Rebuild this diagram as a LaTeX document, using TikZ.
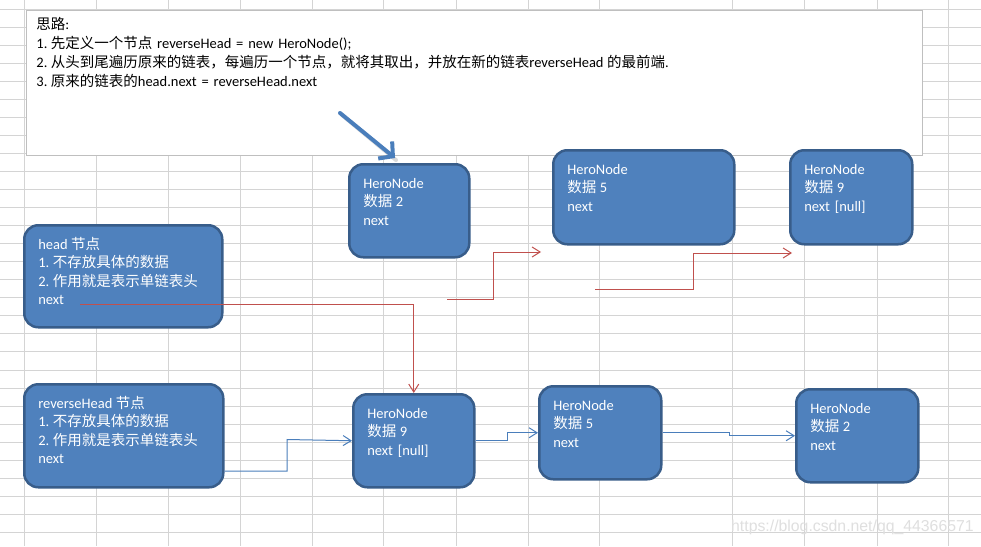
\documentclass[tikz,border=0pt]{standalone}
\usepackage{fontspec}
\setmainfont{Carlito}
\newfontfamily\cjk{Noto Sans CJK SC}
\newfontfamily\wmfont{Liberation Sans}
\usepackage{xcolor}
\usetikzlibrary{arrows.meta, calc}

\definecolor{boxfill}{HTML}{4F81BD}
\definecolor{boxline}{HTML}{385D8A}
\definecolor{linkred}{HTML}{C0504D}
\definecolor{linkblue}{HTML}{4A7EBB}
\definecolor{sheetgrid}{HTML}{D4D4D4}
\definecolor{noteline}{HTML}{BFBFBF}

% narrow gap between latin and chinese text
\newcommand\cjgap{\hspace{3.5pt}}

\tikzset{
  nodebox/.style 2 args={draw=boxline, fill=boxfill, line width=2.5, rounded corners=14,
    text=white, font=\fontsize{14.5}{18.5}\selectfont, align=left, anchor=north west,
    inner xsep=14, inner ysep=13, text height=11pt, text width=#1, text depth=#2},
  redlink/.style={draw=linkred, line width=1, -{Straight Barb[length=8pt,width=10pt]}},
  bluelink/.style={draw=linkblue, line width=1, -{Straight Barb[length=8pt,width=10pt]}},
}

\begin{document}
\begin{tikzpicture}[x=1pt, y=-1pt]
    \path[use as bounding box, fill=white] (0,0) rectangle (981,546);
    % sheet grid behind everything
    \foreach \gx in {24,96,168,240,312,383,456,528,599,732,804,877,948}
        \draw[sheetgrid, line width=1] (\gx,0) -- (\gx,546);
    \foreach \k in {0,...,29}
        \draw[sheetgrid, line width=1] (0,9+18.05*\k) -- (981,9+18.05*\k);
    % idea note
    \node[draw=noteline, fill=white, line width=0.8, anchor=north west, align=left,
        inner xsep=10, inner ysep=8, text width=876pt, text height=11pt, text depth=118pt,
        font=\fontsize{14.5}{19}\selectfont] (idea) at (26,10)
        {{\cjk 思路}:\\
         1.\cjgap{\cjk 先定义一个节点} reverseHead = new HeroNode();\\
         2.\cjgap{\cjk 从头到尾遍历原来的链表，每遍历一个节点，就将其取出，并放在新的链表}reverseHead\cjgap{\cjk 的最前端}.\\
         3.\cjgap{\cjk 原来的链表的}head.next = reverseHead.next};
    % old list
    \node[nodebox={170pt}{65pt}] (head) at (23,224)
        {head\cjgap{\cjk 节点}\\1.\cjgap{\cjk 不存放具体的数据}\\2.\cjgap{\cjk 作用就是表示单链表头}\\next};
    \node[nodebox={92pt}{56pt}] (old2) at (348,163) {HeroNode\\{\cjk 数据}\cjgap 2\\next};
    \node[nodebox={153pt}{57pt}] (old5) at (552,149) {HeroNode\\{\cjk 数据}\cjgap 5\\next};
    \node[nodebox={94pt}{57pt}] (old9) at (789,149) {HeroNode\\{\cjk 数据}\cjgap 9\\next [null]};
    % reversed list
    \node[nodebox={171pt}{66pt}] (rev) at (23,383)
        {reverseHead\cjgap{\cjk 节点}\\1.\cjgap{\cjk 不存放具体的数据}\\2.\cjgap{\cjk 作用就是表示单链表头}\\next};
    \node[nodebox={93pt}{56pt}] (new9) at (352,393) {HeroNode\\{\cjk 数据}\cjgap 9\\next [null]};
    \node[nodebox={94pt}{56pt}] (new5) at (538,385) {HeroNode\\{\cjk 数据}\cjgap 5\\next};
    \node[nodebox={94pt}{56pt}] (new2) at (795,388) {HeroNode\\{\cjk 数据}\cjgap 2\\next};
    % red links (head.next moved over)
    \coordinate (hnext) at (80,304);
    \draw[redlink] (hnext) -| (new9.north);
    \coordinate (a1) at (447,299);
    \coordinate (a2) at (541,252);
    \draw[redlink] (a1) -- (493,299) |- (a2);
    \coordinate (b1) at (595,289);
    \coordinate (b2) at (792,253);
    \draw[redlink] (b1) -- (693,289) |- (b2);
    % blue links of the reversed list
    \draw[bluelink] (rev.east |- 0,471) -| (287,439.5) -- (new9.west);
    \draw[bluelink] (new9.east) -- ++(32,0) |- (new5.west);
    \draw[bluelink] (new5.east) -- ++(67,0) |- (new2.west);
    % pointer to the first node
    \coordinate (p1) at (340,113);
    \coordinate (p2) at (395,158);
    \draw[black, opacity=0.15, line width=4, line cap=round] ($(p1)+(2,2)$) -- ($(p2)+(1,2)$);
    \draw[linkblue, line width=4, line cap=round, -{Straight Barb[length=10pt,width=22pt]}] (p1) -- (p2);
    % watermark
    \node[anchor=base west, inner sep=0, text=gray!25, font=\wmfont\fontsize{15.8}{16}\selectfont]
        (mark) at (731,531) {https://blog.csdn.net/qq\_44366571};
\end{tikzpicture}
\end{document}
